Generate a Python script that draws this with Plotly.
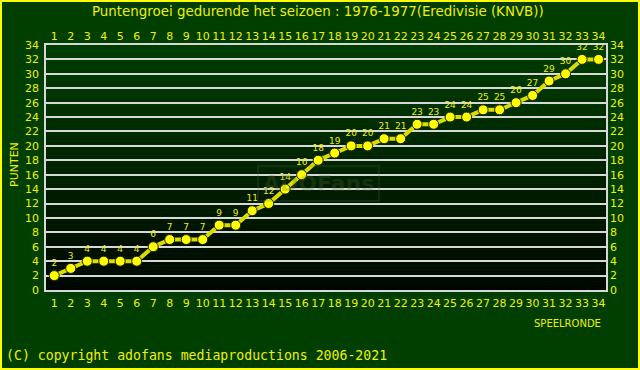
import plotly.graph_objects as go

rounds = list(range(1, 35))
points = [2, 3, 4, 4, 4, 4, 6, 7, 7, 7, 9, 9, 11, 12, 14, 16, 18, 19, 20, 20,
          21, 21, 23, 23, 24, 24, 25, 25, 26, 27, 29, 30, 32, 32]
y_ticks = list(range(0, 35, 2))

title = "Puntengroei gedurende het seizoen : 1976-1977(Eredivisie (KNVB))"
YEL = "#f0f000"
BG = "#003f00"
GRID = "#d8d8d8"
FONT = "DejaVu Sans"

W, H = 640, 370
ML, MR, MT, MB = 46, 34, 45, 80
pw, ph = W - ML - MR, H - MT - MB

fig = go.Figure()
fig.add_trace(go.Scatter(
    x=rounds, y=points, mode="lines+markers+text",
    text=[str(p) for p in points], textposition="top center",
    textfont=dict(family=FONT, size=9, color=YEL),
    line=dict(color="#dcdc00", width=4),
    marker=dict(size=10, color="#ffff00", line=dict(color="#202000", width=1)),
    cliponaxis=False, hoverinfo="skip", showlegend=False))
fig.add_trace(go.Scatter(x=rounds, y=points, xaxis="x2", yaxis="y2",
                         mode="markers", marker=dict(opacity=0),
                         hoverinfo="skip", showlegend=False))

# gradient plot background bands
shapes = []
n = 60
for i in range(n):
    t = i / (n - 1)
    g = int(round(62 * (1 - t) + 6 * t))
    shapes.append(dict(type="rect", xref="paper", yref="paper", layer="below",
                       x0=0, x1=1, y0=1 - (i + 1) / n, y1=1 - i / n,
                       fillcolor=f"rgb(0,{g},0)", line=dict(width=0)))
# outer yellow frame
shapes.append(dict(type="rect", xref="paper", yref="paper", layer="above",
                   x0=(-ML + 1) / pw, x1=(W - ML - 1) / pw,
                   y0=(-MB + 1) / ph, y1=(H - MB - 1) / ph,
                   line=dict(color="#ffff00", width=2), fillcolor="rgba(0,0,0,0)"))

tf = dict(family=FONT, size=11, color=YEL)
axis_common = dict(showline=True, linecolor=GRID, linewidth=1.5, mirror=True,
                   tickfont=tf, ticks="", zeroline=False, automargin=False)
fig.update_layout(
    width=W, height=H, margin=dict(l=ML, r=MR, t=MT, b=MB, autoexpand=False),
    paper_bgcolor=BG, plot_bgcolor=BG, shapes=shapes,
    xaxis=dict(range=[0.5, 34.45], tickvals=rounds, showgrid=False,
               tickangle=0, ticklabelstandoff=2, **axis_common),
    xaxis2=dict(range=[0.5, 34.45], tickvals=rounds, overlaying="x", side="top",
                showgrid=False, showline=False, anchor="y", tickangle=0,
                tickfont=tf, ticks="", zeroline=False, automargin=False,
                ticklabelstandoff=2),
    yaxis=dict(range=[0, 34], tickvals=y_ticks, showgrid=True, gridcolor=GRID,
               gridwidth=1.5, ticklabelstandoff=3, **axis_common),
    yaxis2=dict(range=[0, 34], tickvals=y_ticks, overlaying="y", side="right",
                showgrid=False, showline=False, anchor="x", automargin=False,
                tickfont=tf, ticks="", zeroline=False, ticklabelstandoff=3),
    annotations=[
        dict(text=title, xref="paper", yref="paper", x=(318 - ML) / pw,
             y=(H - MB - 12) / ph, showarrow=False, xanchor="center", yanchor="middle",
             font=dict(family=FONT, size=13.4, color=YEL)),
        dict(text="PUNTEN", xref="paper", yref="paper", x=(14 - ML) / pw,
             y=(H - MB - 165) / ph, showarrow=False, textangle=-90,
             xanchor="center", yanchor="middle",
             font=dict(family=FONT, size=11, color=YEL)),
        dict(text="SPEELRONDE", xref="paper", yref="paper", x=(603 - ML) / pw,
             y=(H - MB - 323) / ph, showarrow=False, xanchor="right", yanchor="middle",
             font=dict(family=FONT, size=10, color=YEL)),
        dict(text="(C) copyright adofans mediaproductions 2006-2021", xref="paper",
             yref="paper", x=(4 - ML) / pw, y=(H - MB - 355) / ph, showarrow=False,
             xanchor="left", yanchor="middle",
             font=dict(family="DejaVu Sans Mono", size=13.2, color=YEL)),
        dict(text="<b>ADOFans</b>", xref="paper", yref="paper", x=(318 - ML) / pw,
             y=(H - MB - 183) / ph, showarrow=False, xanchor="center", yanchor="middle",
             font=dict(family=FONT, size=22, color="rgba(90,110,60,0.25)"),
             bordercolor="rgba(90,110,60,0.2)", borderwidth=2, borderpad=4),
    ],
)

fig.write_html("out.html", config={"displayModeBar": False},
               post_script="document.body.style.margin='0';document.body.style.padding='0';")
